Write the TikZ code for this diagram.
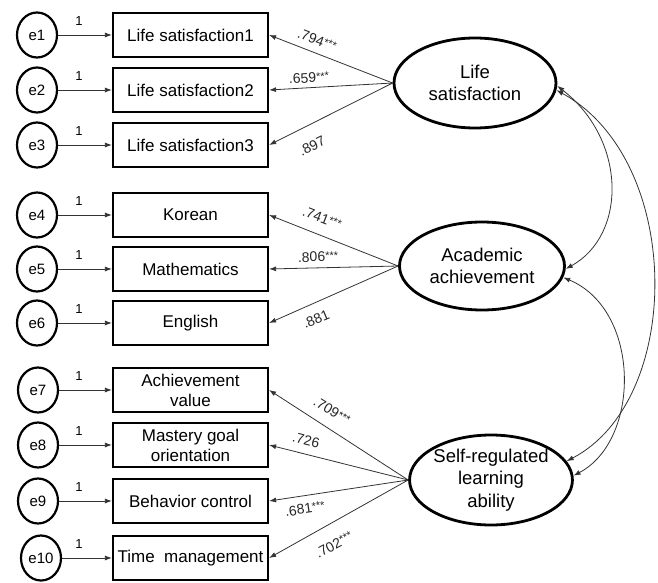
\documentclass[tikz,border=0pt]{standalone}
\usepackage{fontspec}
\setmainfont{Liberation Sans}
\usetikzlibrary{shapes.geometric,arrows.meta}
\newcommand\mystars{\raisebox{0.3ex}{\fontsize{11}{11}\selectfont ***}}
\begin{document}
\begin{tikzpicture}[x=1pt,y=-1pt,
 err/.style={ellipse,draw,line width=2.2pt,minimum width=40pt,minimum height=45pt,inner sep=0pt,font=\fontsize{15}{17}\selectfont},
 obs/.style={rectangle,draw,line width=2.2pt,minimum width=155pt,minimum height=44pt,inner sep=0pt,align=center,font=\fontsize{17}{20}\selectfont},
 lat/.style={ellipse,draw,line width=2.8pt,minimum width=162pt,minimum height=90pt,inner sep=0pt,align=center,font=\fontsize{18.5}{22.5}\selectfont},
 conn/.style={draw=black!80,line width=0.8pt,-{Latex[length=7pt,width=5pt]}},
 cov/.style={draw=black!80,line width=0.8pt,{Latex[length=7pt,width=5pt]}-{Latex[length=7pt,width=5pt]}},
 one/.style={font=\fontsize{13}{15}\selectfont,inner sep=0pt},
 coef/.style={font=\fontsize{14}{16}\selectfont,inner sep=0pt,text=black!85}
]
\useasboundingbox (0,0) rectangle (658,583);
% error terms
\node[err] (e1) at (37,35) {e1};
\node[err] (e2) at (37,90) {e2};
\node[err] (e3) at (37,145) {e3};
\node[err] (e4) at (37,215) {e4};
\node[err] (e5) at (37,269) {e5};
\node[err] (e6) at (37,323) {e6};
\node[err] (e7) at (38,390) {e7};
\node[err] (e8) at (38,445) {e8};
\node[err] (e9) at (38,501) {e9};
\node[err] (e10) at (41,558) {e10};
% observed
\node[obs] (b1) at (190.5,35) {Life satisfaction1};
\node[obs] (b2) at (190.5,90) {Life satisfaction2};
\node[obs] (b3) at (190.5,145) {Life satisfaction3};
\node[obs] (b4) at (190.5,215) {Korean};
\node[obs] (b5) at (190.5,269) {Mathematics};
\node[obs] (b6) at (190.5,323) {English};
\node[obs] (b7) at (190.5,390) {Achievement\\value};
\node[obs] (b8) at (190.5,445) {Mastery goal\\orientation};
\node[obs] (b9) at (190.5,501) {Behavior control};
\node[obs] (b10) at (190.5,558) {Time\ \ management};
% latent
\node[lat] (L) at (475,83) {Life\\satisfaction};
\node[lat,minimum width=165pt,minimum height=88pt] (A) at (482,266) {Academic\\achievement};
\node[lat] (S) at (491,480) {Self-regulated\\learning\\ability};
% error arrows
\foreach \i in {1,...,10} {
  \draw[conn] (e\i.east) -- (b\i.west);
}
\foreach \i/\y in {1/21,2/76,3/131,4/201,5/255,6/309,7/376,8/431,9/487,10/544} {
  \node[one] (one\i) at (79,\y) {1};
}
% loadings
\draw[conn] (L.west) -- (b1.east);
\draw[conn] (L.west) -- (b2.east);
\draw[conn] (L.west) -- (b3.east);
\draw[conn] (A.west) -- (b4.east);
\draw[conn] (A.west) -- (b5.east);
\draw[conn] (A.west) -- (b6.east);
\draw[conn] (S.west) -- (b7.east);
\draw[conn] (S.west) -- (b8.east);
\draw[conn] (S.west) -- (b9.east);
\draw[conn] (S.west) -- (b10.east);
% coefficients
\node[coef,rotate=-21] (c1) at (317,40) {.794\mystars};
\node[coef,rotate=3] (c2) at (309,78) {.659\mystars};
\node[coef,rotate=26] (c3) at (312,146) {.897};
\node[coef,rotate=-21] (c4) at (322,218) {.741\mystars};
\node[coef,rotate=1] (c5) at (318,257) {.806\mystars};
\node[coef,rotate=23] (c6) at (316,319) {.881};
\node[coef,rotate=-32] (c7) at (332,411) {.709\mystars};
\node[coef,rotate=-14] (c8) at (306,440) {.726};
\node[coef,rotate=8] (c9) at (305,509) {.681\mystars};
\node[coef,rotate=28] (c10) at (334,545) {.702\mystars};
% covariances
\draw[cov] (L.-2) .. controls (627,140) and (627,235) .. (A.-2);
\draw[cov] (L.-5) .. controls (684,160) and (684,400) .. (S.14);
\draw[cov] (A.-8) .. controls (641,310) and (641,440) .. (S.3);
\end{tikzpicture}
\end{document}
